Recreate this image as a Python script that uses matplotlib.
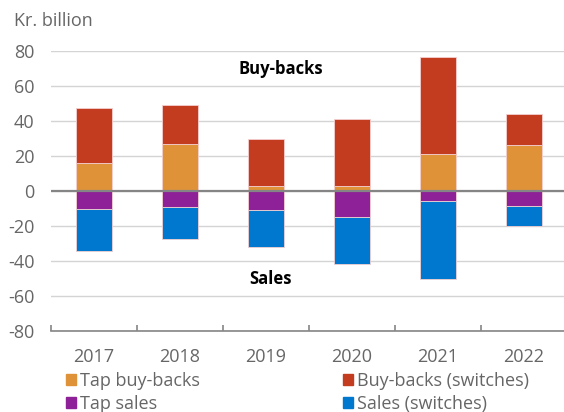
import matplotlib.pyplot as plt
import numpy as np
from matplotlib.patches import Patch

years = ["2017", "2018", "2019", "2020", "2021", "2022"]
tap_buybacks = [16, 27, 3, 3, 21, 26.5]
buybacks_switches = [31.5, 22, 26.5, 38, 55.5, 17.5]
tap_sales = [-10, -9, -11, -15, -5.5, -8.5]
sales_switches = [-24.5, -18.5, -21, -26.5, -44.5, -11.5]

ORANGE = "#DF9238"
RED = "#C33C1F"
PURPLE = "#8E2197"
BLUE = "#0078CF"
GREY_TEXT = "#666666"

plt.rcParams["font.family"] = ["Open Sans", "DejaVu Sans"]
plt.rcParams["axes.unicode_minus"] = False

fig = plt.figure(figsize=(5.64, 4.12), dpi=100)
# plot area: x 51..564 px, y 51..331 px
ax = fig.add_axes([51 / 564, 1 - 331 / 412, 1 - 51 / 564, (331 - 51) / 412])

x = np.arange(len(years))
width = 0.41
edge = dict(edgecolor="#f4d0d0", linewidth=0.6)
ax.bar(x, tap_buybacks, width, color=ORANGE, zorder=3, **edge)
ax.bar(x, buybacks_switches, width, bottom=tap_buybacks, color=RED, zorder=3, **edge)
ax.bar(x, tap_sales, width, color=PURPLE, zorder=3, **edge)
ax.bar(x, sales_switches, width, bottom=tap_sales, color=BLUE, zorder=3, **edge)

ax.set_ylim(-80, 80)
ax.set_xlim(-0.5, 5.465)
ax.set_yticks(range(-80, 81, 20))
ax.grid(axis="y", color="#d4d4d4", linewidth=1, zorder=0)
ax.axhline(0, color="#858585", linewidth=1.6, zorder=4)

for side in ["top", "right", "left"]:
    ax.spines[side].set_visible(False)
ax.spines["bottom"].set_color("#858585")
ax.spines["bottom"].set_linewidth(1.2)

ax.set_xticks(x)
ax.set_xticklabels(years)
ax.set_xticks(np.arange(-0.5, 5, 1), minor=True)
ax.tick_params(axis="x", which="major", length=0, pad=12, labelsize=13, labelcolor=GREY_TEXT)
ax.tick_params(axis="x", which="minor", length=4, width=1.2, color="#858585", direction="in")
ax.tick_params(axis="y", length=0, pad=12, labelsize=13, labelcolor=GREY_TEXT)

ax.text(2.17, 70, "Buy-backs", ha="center", va="center", fontsize=12, fontweight="bold", zorder=5)
ax.text(2.05, -50, "Sales", ha="center", va="center", fontsize=12, fontweight="bold", zorder=5)

fig.text(14 / 564, 1 - 21 / 412, "Kr. billion", ha="left", va="center", fontsize=13, color=GREY_TEXT)

handles = [
    Patch(color=ORANGE, label="Tap buy-backs"),
    Patch(color=PURPLE, label="Tap sales"),
    Patch(color=RED, label="Buy-backs (switches)"),
    Patch(color=BLUE, label="Sales (switches)"),
]
fig.legend(
    handles=handles,
    loc="upper left",
    bbox_to_anchor=(57 / 564, 1 - 363 / 412),
    ncol=2,
    frameon=False,
    fontsize=13,
    handlelength=0.55,
    handleheight=0.55,
    handletextpad=0.25,
    columnspacing=7.9,
    labelspacing=0.28,
    labelcolor=GREY_TEXT,
    borderpad=0,
)

fig.savefig("out.png", dpi=100)
